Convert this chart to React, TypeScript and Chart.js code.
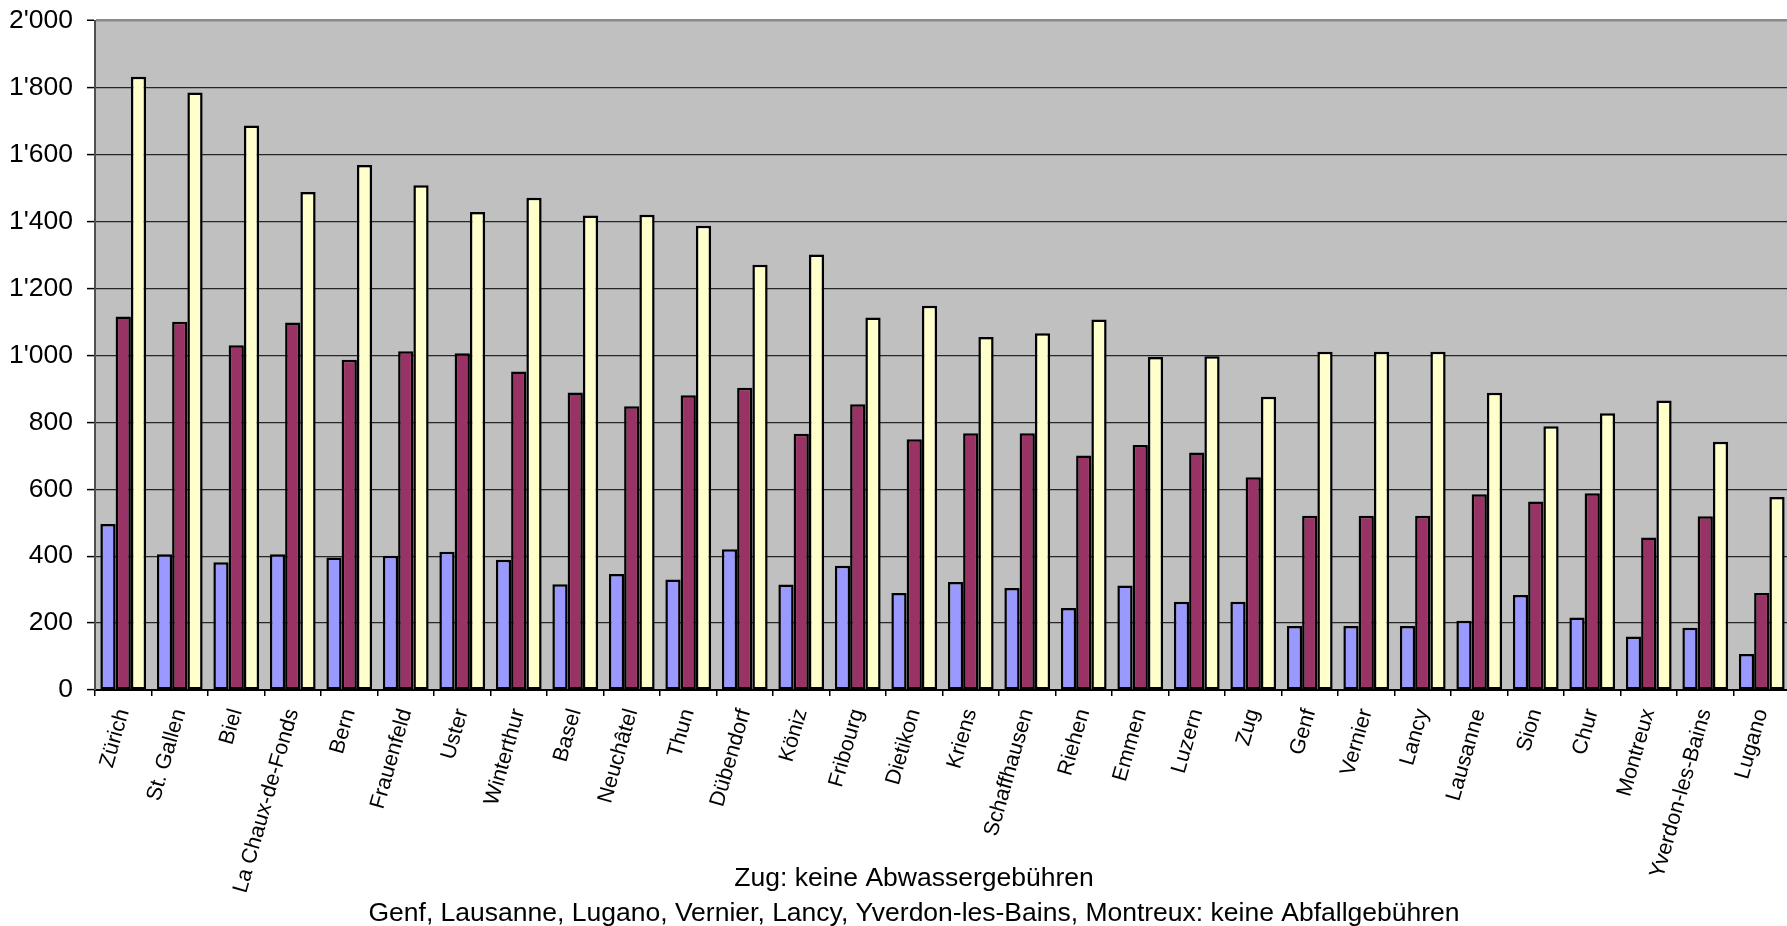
import { useEffect, useRef } from 'react';
import { Chart, registerables } from 'chart.js';

Chart.register(...registerables);

const cities = [
  'Zürich', 'St. Gallen', 'Biel', 'La Chaux-de-Fonds', 'Bern', 'Frauenfeld', 'Uster', 'Winterthur',
  'Basel', 'Neuchâtel', 'Thun', 'Dübendorf', 'Köniz', 'Fribourg', 'Dietikon', 'Kriens',
  'Schaffhausen', 'Riehen', 'Emmen', 'Luzern', 'Zug', 'Genf', 'Vernier', 'Lancy',
  'Lausanne', 'Sion', 'Chur', 'Montreux', 'Yverdon-les-Bains', 'Lugano',
];

const seriesNames = ['Reihe 1', 'Reihe 2', 'Reihe 3'];

const blueValues = [
  496, 406, 382, 406, 396, 401, 413, 389, 316, 347, 330, 421, 315, 371, 290,
  323, 305, 245, 312, 264, 264, 191, 191, 191, 207, 284, 217, 160, 186, 108,
];

const maroonValues = [
  1116, 1100, 1030, 1098, 987, 1012, 1006, 952, 889, 848, 881, 903, 766, 854, 749,
  767, 767, 701, 732, 710, 636, 521, 521, 521, 585, 563, 588, 456, 519, 290,
];

const yellowValues = [
  1832, 1785, 1687, 1488, 1569, 1508, 1428, 1471, 1418, 1420, 1387, 1271, 1301, 1113, 1148,
  1055, 1066, 1107, 995, 997, 876, 1011, 1011, 1011, 888, 788, 827, 865, 742, 577,
];

const yMin = 0;
const yMax = 2000;
const yStep = 200;

const footnoteLines = [
  'Zug: keine Abwassergebühren',
  'Genf, Lausanne, Lugano, Vernier, Lancy, Yverdon-les-Bains, Montreux: keine Abfallgebühren',
];

const FONT = "'Liberation Sans', Arial, Helvetica, sans-serif";

function formatSwiss(v: number): string {
  if (Math.abs(v) < 1000) return String(v);
  const th = Math.floor(v / 1000);
  const rest = String(v % 1000).padStart(3, '0');
  return `${th}'${rest}`;
}

const plotBackground = {
  id: 'plotBackground',
  beforeDraw(chart: any) {
    const { ctx, chartArea } = chart;
    if (!chartArea) return;
    ctx.save();
    ctx.fillStyle = '#C0C0C0';
    ctx.fillRect(chartArea.left, chartArea.top, chartArea.right - chartArea.left, chartArea.bottom - chartArea.top);
    ctx.restore();
  },
};

export default function App() {
  const canvasRef = useRef<HTMLCanvasElement | null>(null);

  useEffect(() => {
    document.body.style.margin = '0';
    const canvas = canvasRef.current;
    if (!canvas) return;

    const chart = new Chart(canvas, {
      type: 'bar',
      data: {
        labels: cities,
        datasets: [
          { label: seriesNames[0], data: blueValues, backgroundColor: '#9999FF' },
          { label: seriesNames[1], data: maroonValues, backgroundColor: '#993366' },
          { label: seriesNames[2], data: yellowValues, backgroundColor: '#FFFFCC' },
        ].map((d) => ({
          ...d,
          borderColor: '#000000',
          borderWidth: 2.5,
          borderSkipped: false as any,
          categoryPercentage: 0.81,
          barPercentage: 1.0,
        })),
      },
      options: {
        animation: false,
        responsive: false,
        devicePixelRatio: 1,
        layout: { padding: { top: 20, left: 0, right: 0, bottom: 0 } },
        plugins: {
          legend: { display: false },
          tooltip: { enabled: false },
          title: {
            display: true,
            position: 'bottom',
            text: footnoteLines,
            color: '#000000',
            font: { family: FONT, size: 26.5, weight: 'normal', lineHeight: 1.32 },
            padding: { top: -40, bottom: 0 },
          },
        },
        scales: {
          x: {
            type: 'category',
            offset: true,
            grid: {
              display: true,
              offset: true,
              drawOnChartArea: false,
              drawTicks: true,
              tickLength: 6,
              color: '#000000',
              lineWidth: 1.5,
            },
            border: { display: true, color: '#000000', width: 2 },
            ticks: {
              autoSkip: false,
              minRotation: 74,
              maxRotation: 74,
              padding: 10,
              color: '#000000',
              font: { family: FONT, size: 21.5 },
            },
            afterFit: (s: any) => {
              s.height = 211;
            },
          },
          y: {
            type: 'linear',
            position: 'left',
            min: yMin,
            max: yMax,
            ticks: {
              stepSize: yStep,
              padding: 14,
              color: '#000000',
              font: { family: FONT, size: 26.5, lineHeight: 0.5 },
              callback: (v: any) => formatSwiss(Number(v)),
            },
            grid: {
              color: (ctx: any) => (ctx.tick && ctx.tick.value === yMax ? '#8a8a8a' : '#262626'),
              lineWidth: (ctx: any) => (ctx.tick && ctx.tick.value === yMax ? 2.5 : 1.2),
              tickLength: 8,
              tickColor: '#000000',
              tickWidth: 1.5,
            },
            border: { display: true, color: '#505050', width: 2 },
            afterFit: (s: any) => {
              s.width = 95;
            },
          },
          yRight: {
            type: 'linear',
            position: 'right',
            display: true,
            grid: { display: false },
            ticks: { display: false },
            border: { display: false },
            afterFit: (s: any) => {
              s.width = 38;
            },
          },
        },
      } as any,
      plugins: [plotBackground],
    });

    return () => {
      chart.destroy();
    };
  }, []);

  return (
    <div style={{ width: 1787, height: 926, overflow: 'hidden', position: 'relative', background: '#ffffff' }}>
      <canvas
        ref={canvasRef}
        width={1828}
        height={931}
        style={{ width: 1828, height: 931, display: 'block' }}
      />
    </div>
  );
}
